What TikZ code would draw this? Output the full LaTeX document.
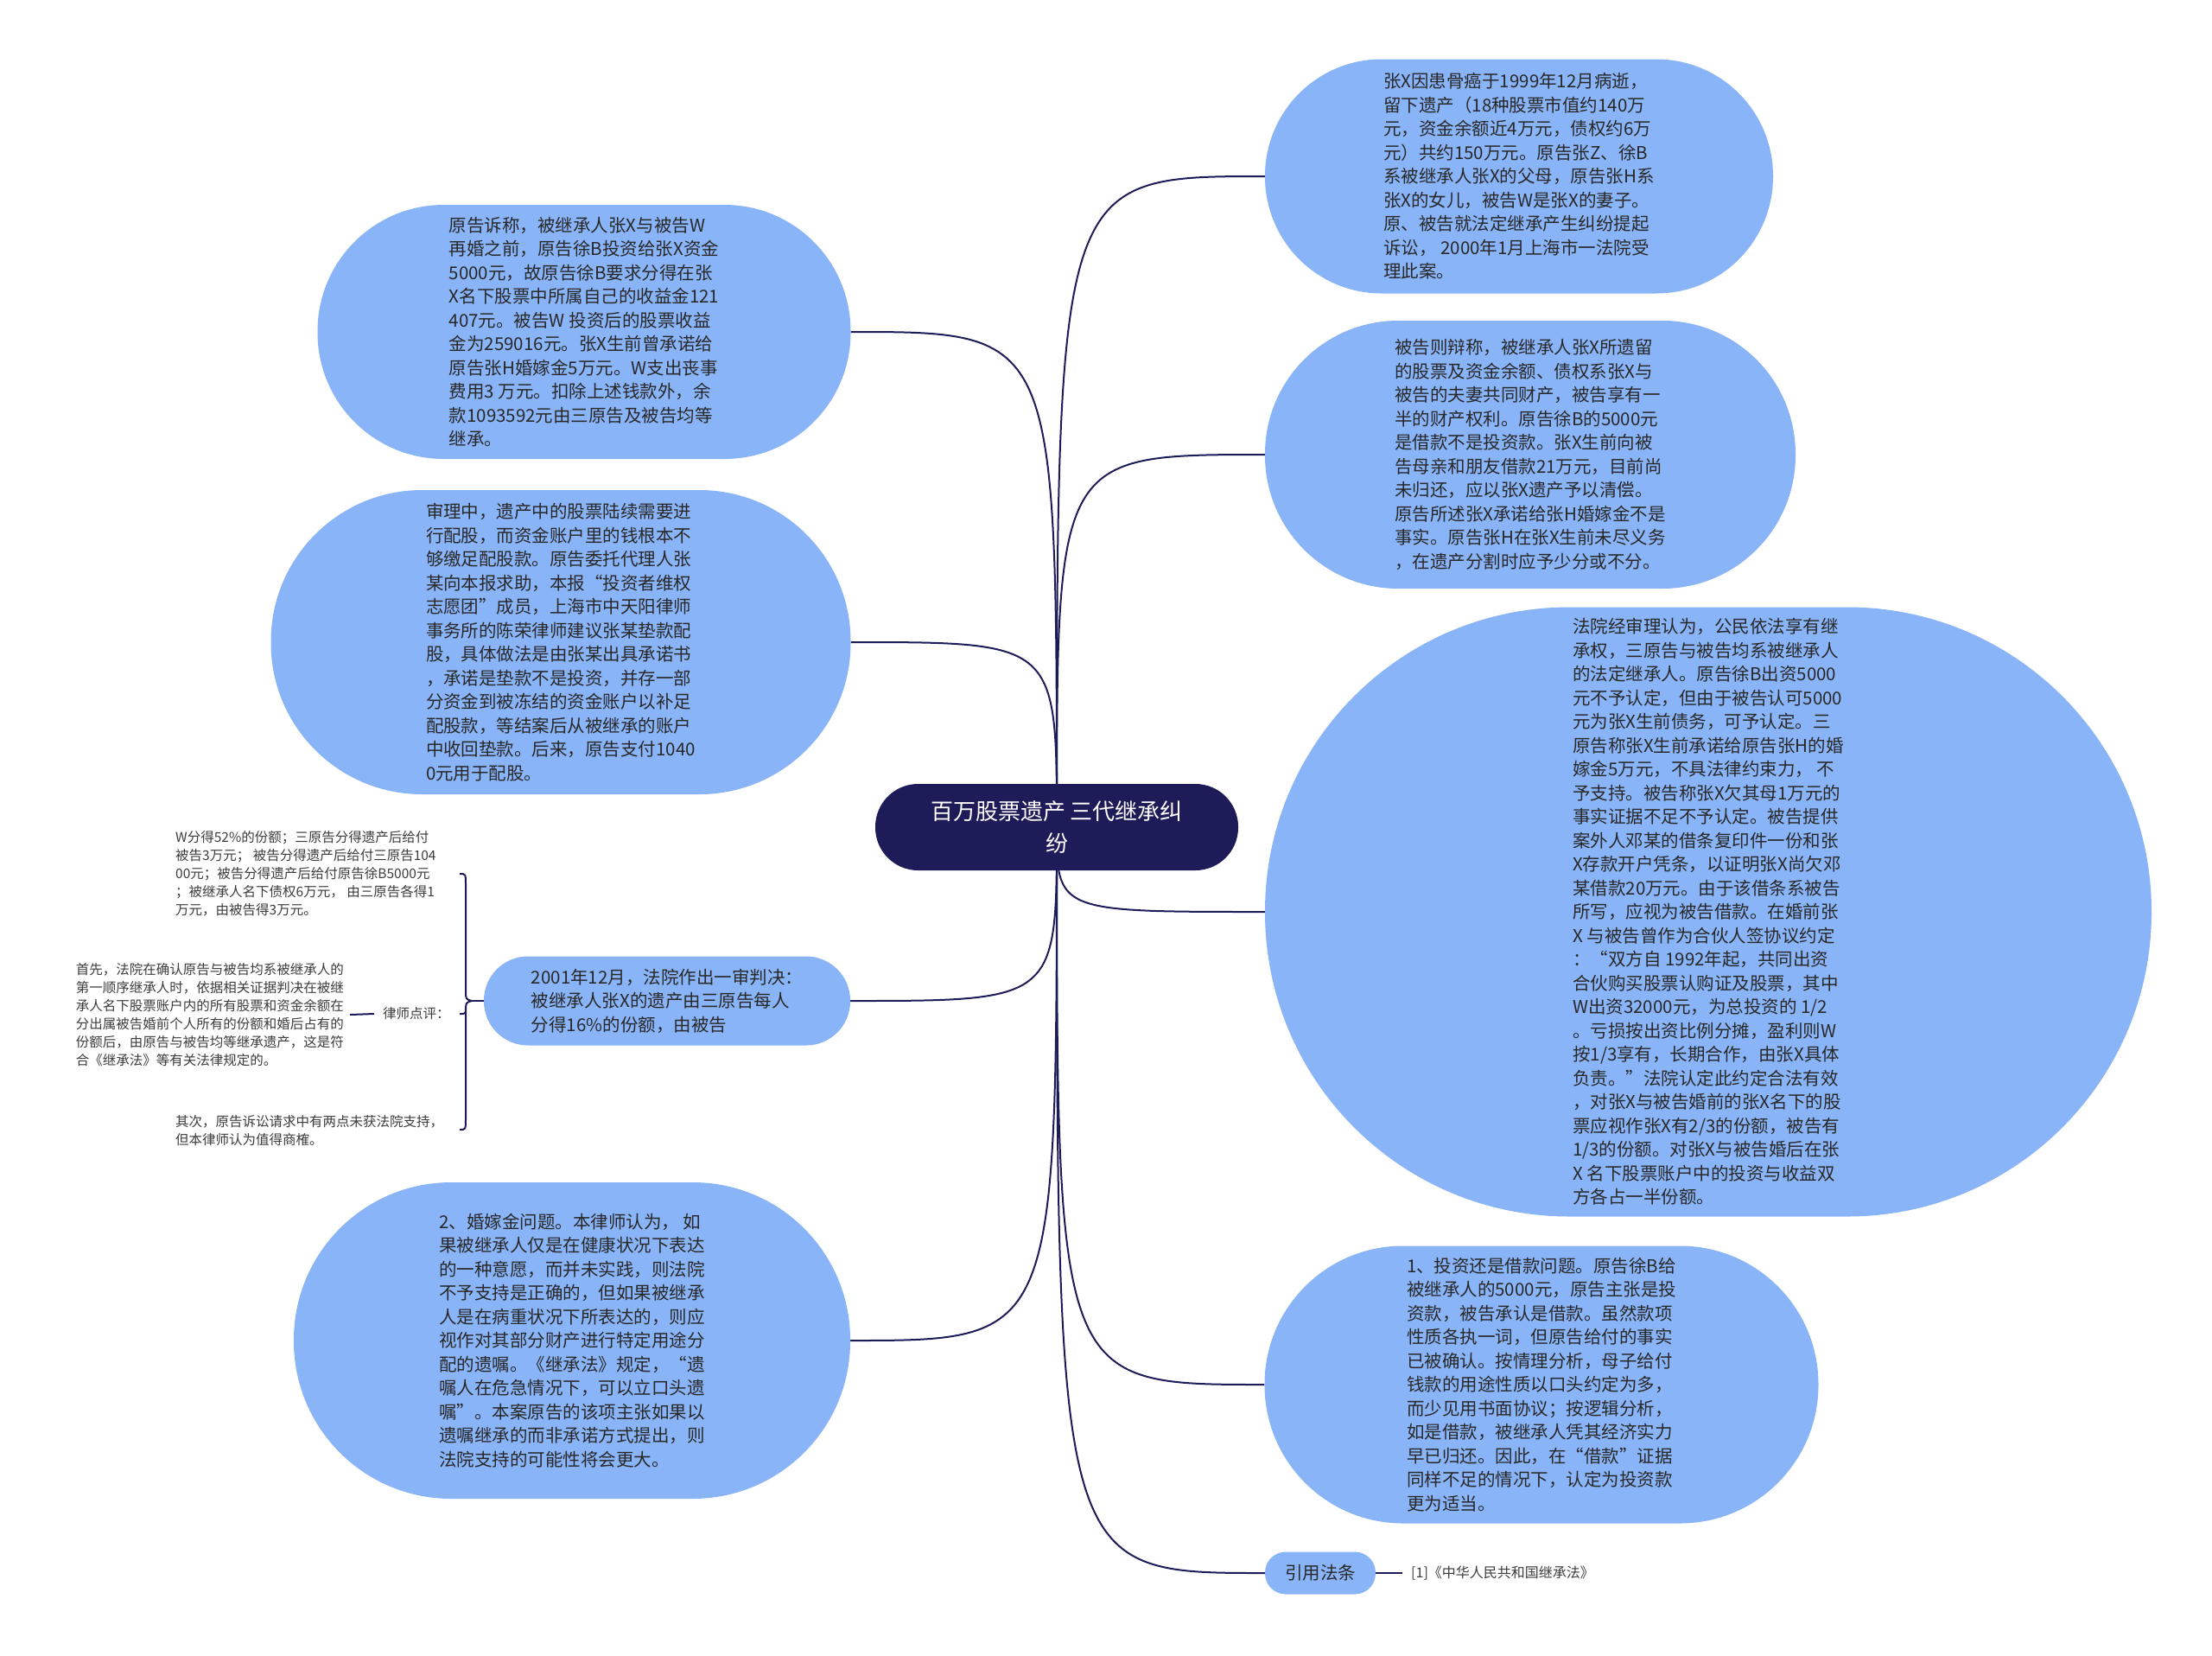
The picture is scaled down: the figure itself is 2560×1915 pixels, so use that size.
\documentclass[tikz,border=0pt]{standalone}
\usepackage{fontspec}
\setmainfont{Noto Sans CJK SC}
\definecolor{navy}{RGB}{29,27,88}
\definecolor{topicblue}{RGB}{138,180,248}
\definecolor{txt}{RGB}{40,40,40}
\definecolor{smalltxt}{RGB}{60,60,60}
\pgfdeclarelayer{bg}
\pgfdeclarelayer{paper}
\pgfsetlayers{paper,bg,main}
\tikzset{
  topic/.style={fill=topicblue, draw=none, inner sep=0pt, align=left, text=txt,
    font=\fontsize{20.5}{27.5}\selectfont},
  rootnode/.style={fill=navy, draw=none, text=white, align=center,
    font=\fontsize{26}{37}\selectfont, minimum width=420pt, minimum height=100pt,
    rounded corners=49.5pt, inner sep=0pt},
  conn/.style={draw=navy, line width=2pt},
  smalltext/.style={align=left, text=smalltxt, font=\fontsize{15.5}{21}\selectfont, inner sep=0pt},
}
\begin{document}
\begin{tikzpicture}[x=1pt,y=-1pt]
\begin{pgfonlayer}{paper}
\fill[white] (0,0) rectangle (2560,1915);
\end{pgfonlayer}
\useasboundingbox (0,0) rectangle (2560,1915);

% root
\node[rootnode] (root) at (1223,957) {百万股票遗产 三代继承纠\\纷};

% right side
\node[topic, minimum width=588pt, minimum height=271pt, rounded corners=135pt] (n1) at (1758,204) {张X因患骨癌于1999年12月病逝，\\留下遗产（18种股票市值约140万\\元，资金余额近4万元，债权约6万\\元）共约150万元。原告张Z、徐B\\系被继承人张X的父母，原告张H系\\张X的女儿，被告W是张X的妻子。\\原、被告就法定继承产生纠纷提起\\诉讼， 2000年1月上海市一法院受\\理此案。};

\node[topic, minimum width=614pt, minimum height=310pt, rounded corners=154pt] (n4) at (1771,526) {被告则辩称，被继承人张X所遗留\\的股票及资金余额、债权系张X与\\被告的夫妻共同财产，被告享有一\\半的财产权利。原告徐B的5000元\\是借款不是投资款。张X生前向被\\告母亲和朋友借款21万元，目前尚\\未归还，应以张X遗产予以清偿。\\原告所述张X承诺给张H婚嫁金不是\\事实。原告张H在张X生前未尽义务\\，在遗产分割时应予少分或不分。};

\node[topic, minimum width=1026pt, minimum height=705pt, rounded corners=352pt] (n5) at (1977,1055) {法院经审理认为，公民依法享有继\\承权，三原告与被告均系被继承人\\的法定继承人。原告徐B出资5000\\元不予认定，但由于被告认可5000\\元为张X生前债务，可予认定。三\\原告称张X生前承诺给原告张H的婚\\嫁金5万元，不具法律约束力， 不\\予支持。被告称张X欠其母1万元的\\事实证据不足不予认定。被告提供\\案外人邓某的借条复印件一份和张\\X存款开户凭条，以证明张X尚欠邓\\某借款20万元。由于该借条系被告\\所写，应视为被告借款。在婚前张\\X 与被告曾作为合伙人签协议约定\\：“双方自 1992年起，共同出资\\合伙购买股票认购证及股票，其中\\W出资32000元，为总投资的 1/2\\。亏损按出资比例分摊，盈利则W\\按1/3享有，长期合作，由张X具体\\负责。”法院认定此约定合法有效\\，对张X与被告婚前的张X名下的股\\票应视作张X有2/3的份额，被告有\\1/3的份额。对张X与被告婚后在张\\X 名下股票账户中的投资与收益双\\方各占一半份额。};

\node[topic, minimum width=641pt, minimum height=321pt, rounded corners=160pt] (n6) at (1784,1602) {1、投资还是借款问题。原告徐B给\\被继承人的5000元，原告主张是投\\资款，被告承认是借款。虽然款项\\性质各执一词，但原告给付的事实\\已被确认。按情理分析，母子给付\\钱款的用途性质以口头约定为多，\\而少见用书面协议；按逻辑分析，\\如是借款，被继承人凭其经济实力\\早已归还。因此，在“借款”证据\\同样不足的情况下，认定为投资款\\更为适当。};

\node[topic, align=center, minimum width=128pt, minimum height=49pt, rounded corners=24pt] (n9) at (1528,1820) {引用法条};
\node[smalltext, font=\fontsize{16}{21}\selectfont, inner xsep=10pt, anchor=west] (n10) at (1623,1820) {[1]《中华人民共和国继承法》};

% left side
\node[topic, minimum width=617pt, minimum height=294pt, rounded corners=146pt] (n2) at (676,384) {原告诉称，被继承人张X与被告W\\再婚之前，原告徐B投资给张X资金\\5000元，故原告徐B要求分得在张\\X名下股票中所属自己的收益金121\\407元。被告W 投资后的股票收益\\金为259016元。张X生前曾承诺给\\原告张H婚嫁金5万元。W支出丧事\\费用3 万元。扣除上述钱款外，余\\款1093592元由三原告及被告均等\\继承。};

\node[topic, minimum width=671pt, minimum height=352pt, rounded corners=175pt] (n3) at (649,743) {审理中，遗产中的股票陆续需要进\\行配股，而资金账户里的钱根本不\\够缴足配股款。原告委托代理人张\\某向本报求助，本报“投资者维权\\志愿团”成员，上海市中天阳律师\\事务所的陈荣律师建议张某垫款配\\股，具体做法是由张某出具承诺书\\，承诺是垫款不是投资，并存一部\\分资金到被冻结的资金账户以补足\\配股款，等结案后从被继承的账户\\中收回垫款。后来，原告支付1040\\0元用于配股。};

\node[topic, minimum width=424pt, minimum height=103pt, rounded corners=51pt] (n8) at (772,1158) {2001年12月，法院作出一审判决：\\被继承人张X的遗产由三原告每人\\分得16\%的份额，由被告};

\node[topic, minimum width=644pt, minimum height=366pt, rounded corners=182pt] (n7) at (662,1551) {2、婚嫁金问题。本律师认为， 如\\果被继承人仅是在健康状况下表达\\的一种意愿，而并未实践，则法院\\不予支持是正确的，但如果被继承\\人是在病重状况下所表达的，则应\\视作对其部分财产进行特定用途分\\配的遗嘱。《继承法》规定，“遗\\嘱人在危急情况下，可以立口头遗\\嘱”。本案原告的该项主张如果以\\遗嘱继承的而非承诺方式提出，则\\法院支持的可能性将会更大。};

% lawyer comment group
\node[smalltext, anchor=west] (w52) at (203,1011) {W分得52\%的份额；三原告分得遗产后给付\\被告3万元； 被告分得遗产后给付三原告104\\00元；被告分得遗产后给付原告徐B5000元\\；被继承人名下债权6万元， 由三原告各得1\\万元，由被告得3万元。};
\node[smalltext, anchor=west] (lvdian) at (443,1173) {律师点评：};
\node[smalltext, anchor=east] (shouxian) at (398,1174) {首先，法院在确认原告与被告均系被继承人的\\第一顺序继承人时，依据相关证据判决在被继\\承人名下股票账户内的所有股票和资金余额在\\分出属被告婚前个人所有的份额和婚后占有的\\份额后，由原告与被告均等继承遗产，这是符\\合《继承法》等有关法律规定的。};
\node[smalltext, anchor=west] (qici) at (203,1308) {其次，原告诉讼请求中有两点未获法院支持，\\但本律师认为值得商榷。};

\coordinate (btop) at (532,1011);
\coordinate (bbot) at (532,1307);
\coordinate (btip) at (546,1158);
\coordinate (bmid) at (532,1173);

% connectors
\begin{pgfonlayer}{bg}
\foreach \n in {n1,n4,n5,n6,n9}
  \draw[conn] (root.center) .. controls (root.center |- \n.west) .. (\n.west);
\foreach \n in {n2,n3,n8,n7}
  \draw[conn] (root.center) .. controls (root.center |- \n.east) .. (\n.east);
\end{pgfonlayer}
\draw[conn] (n9.east) -- (n10.west);
\draw[conn] (n8.west) -- (btip);
\draw[conn] (btop) .. controls (539,1011) .. (539,1024) -- (539,1146)
  .. controls (539,1156) .. (btip) .. controls (539,1160) .. (539,1170)
  -- (539,1294) .. controls (539,1307) .. (bbot);
\draw[conn] (bmid) .. controls (539,1173) .. (539,1166);
\draw[conn] ([xshift=7pt]shouxian.east) -- ([xshift=-10pt]lvdian.west);
\end{tikzpicture}
\end{document}
